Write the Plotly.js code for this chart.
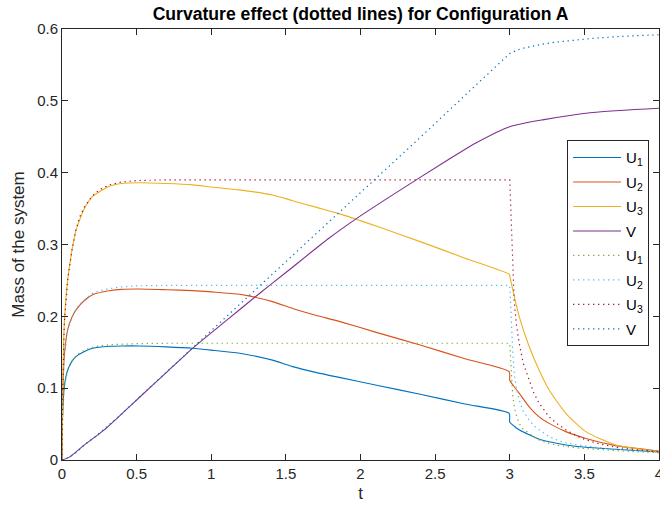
<!DOCTYPE html>
<html>
<head>
<meta charset="utf-8">
<script src="https://cdn.plot.ly/plotly-3.0.1.min.js"></script>
<style>
html,body{margin:0;padding:0;background:#fff;}
#chart{width:660px;height:508px;}
</style>
</head>
<body>
<div id="chart"></div>
<script>
// ---- data ----
var seriesNames = ["U<sub>1</sub>", "U<sub>2</sub>", "U<sub>3</sub>", "V"];

// solid lines (without curvature)
var tSolidU = [0, 0.004, 0.0154, 0.0377, 0.065, 0.094, 0.15, 0.205, 0.317, 0.4, 0.518, 0.7, 0.875, 1.0, 1.19, 1.41, 1.545, 1.7, 1.857, 2.1, 2.4, 2.7, 2.996, 3.0, 3.03, 3.063, 3.13, 3.197, 3.264, 3.376, 3.51, 3.71, 4.0];
var u1Solid = [0, 0.06, 0.102, 0.125, 0.137, 0.144, 0.151, 0.1555, 0.1583, 0.1588, 0.1588, 0.1575, 0.1555, 0.153, 0.1486, 0.139, 0.130, 0.122, 0.115, 0.1045, 0.0915, 0.078, 0.065, 0.053, 0.047, 0.042, 0.035, 0.029, 0.0255, 0.021, 0.0177, 0.015, 0.0112];
var u2Solid = [0, 0.08, 0.144, 0.181, 0.198, 0.209, 0.222, 0.230, 0.2355, 0.2375, 0.238, 0.237, 0.2358, 0.234, 0.2307, 0.2205, 0.211, 0.2015, 0.193, 0.178, 0.160, 0.141, 0.123, 0.111, 0.102, 0.093, 0.074, 0.060, 0.051, 0.0395, 0.030, 0.020, 0.0125];
var u3Solid = [0, 0.09, 0.19, 0.25, 0.29, 0.32, 0.350, 0.367, 0.381, 0.385, 0.386, 0.385, 0.383, 0.380, 0.376, 0.369, 0.361, 0.352, 0.343, 0.326, 0.304, 0.281, 0.2586, 0.256, 0.228, 0.200, 0.158, 0.125, 0.0975, 0.065, 0.0395, 0.021, 0.012];
var tSolidV = [0, 0.05, 0.15, 0.283, 0.43, 0.518, 0.7, 0.875, 1.1, 1.3, 1.5, 1.79, 1.958, 2.2, 2.587, 2.77, 3.0, 3.22, 3.554, 4.0];
var vSolid = [0, 0.004, 0.021, 0.042, 0.070, 0.087, 0.122, 0.1555, 0.194, 0.228, 0.261, 0.309, 0.334, 0.367, 0.418, 0.441, 0.464, 0.4735, 0.4838, 0.4897];

// dotted lines (curvature effect)
var tDotU = [0, 0.004, 0.0154, 0.0377, 0.065, 0.094, 0.12, 0.15, 0.18, 0.205, 0.25, 0.317, 0.4, 0.5, 0.6, 0.7, 3.0, 3.01, 3.02, 3.03, 3.045, 3.063, 3.09, 3.13, 3.16, 3.197, 3.264, 3.32, 3.376, 3.44, 3.51, 3.6, 3.71, 3.85, 4.0];
var u1Dot = [0, 0.06, 0.102, 0.125, 0.137, 0.145, 0.1495, 0.153, 0.1553, 0.157, 0.159, 0.1605, 0.1615, 0.162, 0.1623, 0.1625, 0.1625, 0.12, 0.09, 0.074, 0.061, 0.051, 0.043, 0.037, 0.032, 0.028, 0.023, 0.0205, 0.0185, 0.017, 0.0158, 0.0143, 0.013, 0.0115, 0.0102];
var u2Dot = [0, 0.08, 0.144, 0.181, 0.198, 0.210, 0.217, 0.223, 0.228, 0.232, 0.2355, 0.2385, 0.241, 0.2425, 0.2428, 0.243, 0.243, 0.19, 0.15, 0.121, 0.099, 0.0835, 0.068, 0.0557, 0.048, 0.042, 0.0325, 0.0275, 0.024, 0.0215, 0.0195, 0.017, 0.015, 0.013, 0.011];
var u3Dot = [0, 0.09, 0.19, 0.25, 0.29, 0.321, 0.339, 0.352, 0.361, 0.368, 0.376, 0.383, 0.387, 0.389, 0.3895, 0.39, 0.39, 0.33, 0.265, 0.22, 0.188, 0.163, 0.135, 0.111, 0.094, 0.079, 0.060, 0.050, 0.042, 0.0345, 0.028, 0.0225, 0.0177, 0.0143, 0.0116];
var tDotV = [0, 0.05, 0.1, 0.15, 0.22, 0.283, 0.4, 0.5, 0.875, 1.3, 1.857, 2.4, 3.0, 3.03, 3.06, 3.1, 3.15, 3.22, 3.3, 3.4, 3.554, 3.75, 4.0];
var vDot = [0, 0.004, 0.011, 0.021, 0.032, 0.043, 0.064, 0.084, 0.156, 0.238, 0.344, 0.449, 0.566, 0.569, 0.5715, 0.5738, 0.5763, 0.579, 0.5815, 0.584, 0.587, 0.5898, 0.592];

var xTickVals = [0, 0.5, 1, 1.5, 2, 2.5, 3, 3.5, 4];
var xTickText = ["0", "0.5", "1", "1.5", "2", "2.5", "3", "3.5", "4"];
var yTickVals = [0, 0.1, 0.2, 0.3, 0.4, 0.5, 0.6];
var yTickText = ["0", "0.1", "0.2", "0.3", "0.4", "0.5", "0.6"];

// ---- styling ----
var solidColors = ["#0072BD", "#D95319", "#EDB120", "#7E2F8E"];
var dotColors = ["#77AC30", "#4DBEEE", "#A2142F", "#0072BD"];

var solidX = [tSolidU, tSolidU, tSolidU, tSolidV];
var solidY = [u1Solid, u2Solid, u3Solid, vSolid];
var dotX = [tDotU, tDotU, tDotU, tDotV];
var dotY = [u1Dot, u2Dot, u3Dot, vDot];

var traces = [];
for (var i = 0; i < 4; i++) {
  traces.push({
    x: solidX[i], y: solidY[i], type: "scatter", mode: "lines",
    name: seriesNames[i], legendgroup: "s" + i,
    line: {color: solidColors[i], width: 1.1, shape: "spline", smoothing: 0.6}
  });
}
for (var j = 0; j < 4; j++) {
  traces.push({
    x: dotX[j], y: dotY[j], type: "scatter", mode: "lines",
    name: seriesNames[j], legendgroup: "d" + j,
    line: {color: dotColors[j], width: 1.2, dash: "1.3px,3.7px", shape: "linear"}
  });
}

var axisColor = "#262626";
var layout = {
  width: 660, height: 508,
  margin: {l: 62, r: 1, t: 29, b: 48},
  paper_bgcolor: "#ffffff", plot_bgcolor: "#ffffff",
  font: {family: "Liberation Sans, Arial, sans-serif", size: 15, color: axisColor},
  title: {
    text: "<b>Curvature effect (dotted lines) for Configuration A</b>",
    font: {size: 17.6, color: "#000000"},
    x: 0.5, xref: "paper", y: 1 - 14 / 508, yref: "container", yanchor: "middle"
  },
  xaxis: {
    range: [0, 4], tickvals: xTickVals, ticktext: xTickText,
    showline: true, mirror: "ticks", linecolor: axisColor, linewidth: 1,
    ticks: "inside", ticklen: 6, tickcolor: axisColor, tickwidth: 1,
    showgrid: false, zeroline: false, ticklabeloverflow: "allow",
    title: {text: "t", font: {size: 17}, standoff: 6}
  },
  yaxis: {
    range: [0, 0.6], tickvals: yTickVals, ticktext: yTickText,
    showline: true, mirror: "ticks", linecolor: axisColor, linewidth: 1,
    ticks: "inside", ticklen: 6, tickcolor: axisColor, tickwidth: 1,
    showgrid: false, zeroline: false,
    title: {text: "Mass of the system", font: {size: 17}, standoff: 8}
  },
  showlegend: true,
  legend: {
    x: 0.846, y: 0.742, xanchor: "left", yanchor: "top",
    bgcolor: "#ffffff", bordercolor: axisColor, borderwidth: 1,
    font: {size: 15, color: "#000000"},
    traceorder: "grouped", tracegroupgap: 2, itemwidth: 48
  }
};

Plotly.newPlot("chart", traces, layout, {displayModeBar: false, staticPlot: true});
</script>
</body>
</html>
